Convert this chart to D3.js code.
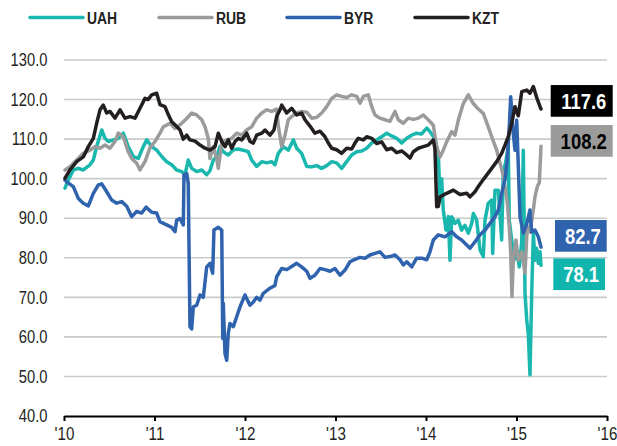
<!DOCTYPE html>
<html>
<head>
<meta charset="utf-8">
<script src="https://cdn.jsdelivr.net/npm/d3@7/dist/d3.min.js"></script>
<style>
    body { margin: 0; background: #ffffff; }
    svg { display: block; }
    text { font-family: "Liberation Sans", Arial, sans-serif; }
</style>
</head>
<body>
<div id="chart"></div>
<script>
// series names / colours
var seriesNames = ["UAH", "RUB", "BYR", "KZT"];
var seriesColors = ["#1ab7ae", "#9b9b9b", "#2f63ad", "#231f20"];
var yTicks = [40, 50, 60, 70, 80, 90, 100, 110, 120, 130];
var xTicks = [2010, 2011, 2012, 2013, 2014, 2015, 2016];

// [year, index]
var uah = [[2010.011,97.6],[2010.048,99.7],[2010.103,102.2],[2010.158,102.6],[2010.213,102.2],[2010.287,103.5],
    [2010.324,104.7],[2010.361,108.1],[2010.417,112.3],[2010.453,110.2],[2010.490,109.4],[2010.545,109.8],
    [2010.600,110.2],[2010.655,111.5],[2010.710,108.1],[2010.766,105.6],[2010.821,105.1],[2010.876,108.1],
    [2010.914,109.8],[2010.969,108.1],[2011.024,107.2],[2011.080,105.6],[2011.135,104.3],[2011.190,103.5],
    [2011.245,102.2],[2011.301,101.8],[2011.337,101.0],[2011.373,104.7],[2011.411,102.6],[2011.466,101.8],
    [2011.522,102.2],[2011.577,101.0],[2011.613,102.0],[2011.650,104.7],[2011.687,105.6],[2011.724,108.1],
    [2011.760,106.8],[2011.815,106.0],[2011.871,107.3],[2011.926,107.5],[2011.981,107.2],[2012.036,106.8],
    [2012.074,104.7],[2012.129,103.1],[2012.185,104.3],[2012.240,104.0],[2012.295,104.3],[2012.331,103.5],
    [2012.368,106.4],[2012.423,108.1],[2012.478,107.2],[2012.534,109.8],[2012.571,107.7],[2012.626,106.4],
    [2012.682,103.1],[2012.737,103.0],[2012.792,103.3],[2012.847,102.6],[2012.903,103.3],[2012.958,104.3],
    [2013.013,104.0],[2013.068,102.6],[2013.124,104.3],[2013.179,106.0],[2013.234,106.8],[2013.290,107.0],
    [2013.345,107.7],[2013.400,109.0],[2013.455,109.8],[2013.510,110.6],[2013.566,111.5],[2013.621,110.8],
    [2013.676,110.2],[2013.731,109.0],[2013.787,110.2],[2013.842,111.0],[2013.897,111.5],[2013.952,111.3],
    [2014.008,112.8],[2014.044,111.9],[2014.099,110.0],[2014.136,106.4],[2014.155,94.6],[2014.173,100.0],
    [2014.191,92.1],[2014.221,87.0],[2014.247,90.4],[2014.265,79.4],[2014.284,90.4],[2014.320,88.7],
    [2014.357,89.5],[2014.394,87.0],[2014.431,88.2],[2014.468,86.2],[2014.505,88.7],[2014.523,91.2],
    [2014.560,89.5],[2014.597,82.0],[2014.633,80.3],[2014.652,89.5],[2014.688,93.8],[2014.726,94.6],
    [2014.737,81.1],[2014.762,97.1],[2014.799,97.1],[2014.836,84.5],[2014.854,101.3],[2014.884,104.7],
    [2014.909,108.2],[2014.920,89.5],[2014.947,84.5],[2014.972,79.4],[2015.002,81.5],[2015.031,77.7],
    [2015.058,84.0],[2015.075,107.2],[2015.094,71.0],[2015.113,64.3],[2015.130,60.9],[2015.149,50.4],
    [2015.168,71.0],[2015.186,86.2],[2015.204,79.4],[2015.223,82.4],[2015.241,78.6],[2015.260,81.5],
    [2015.271,78.1]];

var rub = [[2010.011,102.2],[2010.066,103.0],[2010.140,104.7],[2010.213,106.4],[2010.287,107.2],[2010.343,108.1],
    [2010.398,107.7],[2010.453,108.5],[2010.508,107.7],[2010.564,109.4],[2010.600,111.5],[2010.655,110.6],
    [2010.710,106.8],[2010.748,105.1],[2010.803,103.9],[2010.840,102.2],[2010.895,104.3],[2010.950,107.8],
    [2011.006,109.4],[2011.061,111.5],[2011.097,113.1],[2011.171,114.0],[2011.227,112.7],[2011.301,114.0],
    [2011.356,115.2],[2011.411,116.6],[2011.466,116.1],[2011.522,114.9],[2011.558,113.1],[2011.594,110.2],
    [2011.613,105.1],[2011.650,108.1],[2011.687,105.1],[2011.705,102.6],[2011.743,109.0],[2011.798,109.8],
    [2011.853,110.2],[2011.908,111.5],[2011.964,111.0],[2012.019,112.3],[2012.074,113.1],[2012.129,115.3],
    [2012.185,116.6],[2012.240,117.4],[2012.295,117.0],[2012.350,117.6],[2012.368,113.3],[2012.406,108.1],
    [2012.442,111.0],[2012.478,114.9],[2012.516,115.7],[2012.571,116.6],[2012.626,117.0],[2012.682,116.8],
    [2012.737,115.3],[2012.792,115.5],[2012.847,116.6],[2012.903,118.2],[2012.958,120.3],[2013.013,121.2],
    [2013.068,120.8],[2013.124,120.5],[2013.179,121.2],[2013.234,120.8],[2013.271,119.1],[2013.307,120.8],
    [2013.362,121.2],[2013.400,118.2],[2013.436,116.1],[2013.492,115.3],[2013.547,114.9],[2013.602,114.5],
    [2013.657,117.0],[2013.694,114.9],[2013.749,114.0],[2013.804,115.3],[2013.860,115.0],[2013.915,115.3],
    [2013.970,116.1],[2014.025,114.9],[2014.081,113.5],[2014.118,108.0],[2014.155,105.5],[2014.191,107.2],
    [2014.228,109.3],[2014.284,111.9],[2014.320,111.0],[2014.357,114.8],[2014.412,119.0],[2014.468,121.2],
    [2014.523,119.0],[2014.578,117.6],[2014.633,116.5],[2014.688,113.1],[2014.726,110.6],[2014.781,107.2],
    [2014.818,103.9],[2014.854,100.9],[2014.884,96.3],[2014.898,94.0],[2014.920,87.9],[2014.936,81.1],
    [2014.950,70.2],[2014.965,79.5],[2014.994,84.5],[2015.020,79.4],[2015.058,81.5],[2015.094,76.1],
    [2015.119,88.0],[2015.149,86.5],[2015.186,92.1],[2015.204,95.4],[2015.230,98.0],[2015.252,99.0],
    [2015.271,108.2]];

var byr = [[2010.011,99.6],[2010.030,99.2],[2010.103,98.0],[2010.158,95.0],[2010.213,93.8],[2010.269,93.1],
    [2010.324,96.3],[2010.379,98.4],[2010.417,98.7],[2010.472,96.7],[2010.527,94.6],[2010.582,93.8],
    [2010.638,94.2],[2010.693,93.0],[2010.748,90.4],[2010.803,91.7],[2010.859,91.3],[2010.906,92.8],
    [2010.969,91.5],[2011.024,91.3],[2011.061,89.1],[2011.135,88.3],[2011.190,87.7],[2011.227,86.6],
    [2011.245,89.5],[2011.282,89.9],[2011.318,88.3],[2011.326,100.9],[2011.356,101.3],[2011.373,98.8],
    [2011.392,62.6],[2011.411,62.0],[2011.429,67.6],[2011.466,68.0],[2011.503,70.6],[2011.539,70.0],
    [2011.577,77.7],[2011.613,78.6],[2011.643,76.1],[2011.657,87.0],[2011.705,87.7],[2011.743,87.0],
    [2011.754,59.6],[2011.760,68.5],[2011.779,55.8],[2011.798,54.1],[2011.815,60.9],[2011.834,63.4],
    [2011.871,62.6],[2011.908,65.1],[2011.945,67.6],[2012.000,70.6],[2012.055,68.0],[2012.092,68.8],
    [2012.129,70.0],[2012.166,69.3],[2012.202,71.0],[2012.276,72.3],[2012.331,73.0],[2012.350,75.2],
    [2012.406,77.3],[2012.461,77.0],[2012.516,77.8],[2012.571,78.6],[2012.626,77.7],[2012.682,76.6],
    [2012.718,74.8],[2012.773,75.6],[2012.829,77.3],[2012.884,77.0],[2012.939,76.6],[2012.994,77.3],
    [2013.050,75.6],[2013.105,76.9],[2013.160,79.0],[2013.215,79.6],[2013.271,80.1],[2013.326,79.9],
    [2013.381,80.7],[2013.436,81.1],[2013.492,81.5],[2013.547,80.1],[2013.602,80.3],[2013.657,80.7],
    [2013.713,79.5],[2013.749,78.2],[2013.787,79.0],[2013.842,77.7],[2013.897,79.9],[2013.952,79.9],
    [2014.008,79.5],[2014.044,81.5],[2014.081,84.5],[2014.136,85.8],[2014.210,85.3],[2014.284,86.6],
    [2014.339,85.3],[2014.394,84.5],[2014.486,82.4],[2014.541,84.0],[2014.597,85.8],[2014.652,87.0],
    [2014.707,88.7],[2014.762,90.4],[2014.799,92.1],[2014.836,96.3],[2014.873,99.7],[2014.898,104.7],
    [2014.920,113.1],[2014.936,120.7],[2014.958,113.0],[2014.983,107.2],[2015.002,114.8],[2015.022,102.0],
    [2015.039,90.4],[2015.075,86.2],[2015.113,88.5],[2015.149,92.1],[2015.168,86.5],[2015.204,87.0],
    [2015.241,85.3],[2015.271,82.7]];

var kzt = [[2010.011,100.1],[2010.066,102.2],[2010.140,104.3],[2010.213,105.5],[2010.269,108.1],[2010.324,110.2],
    [2010.361,114.0],[2010.398,117.4],[2010.434,118.6],[2010.472,116.6],[2010.508,117.0],[2010.564,115.3],
    [2010.619,117.4],[2010.674,115.3],[2010.729,115.7],[2010.785,115.3],[2010.840,117.8],[2010.895,120.3],
    [2010.931,120.0],[2010.969,121.2],[2011.024,121.6],[2011.061,118.7],[2011.116,118.2],[2011.152,116.2],
    [2011.190,114.4],[2011.227,113.6],[2011.282,112.3],[2011.318,110.0],[2011.356,111.0],[2011.392,109.8],
    [2011.448,109.5],[2011.503,108.5],[2011.558,107.7],[2011.613,107.2],[2011.669,108.1],[2011.705,111.5],
    [2011.743,109.4],[2011.779,108.1],[2011.815,109.8],[2011.853,107.7],[2011.890,109.4],[2011.926,110.2],
    [2011.964,109.8],[2012.019,111.5],[2012.055,109.4],[2012.092,109.0],[2012.129,111.0],[2012.185,111.5],
    [2012.221,112.3],[2012.276,111.0],[2012.320,112.3],[2012.350,115.7],[2012.387,117.4],[2012.406,118.6],
    [2012.461,116.6],[2012.516,117.8],[2012.571,116.1],[2012.626,116.6],[2012.663,114.9],[2012.718,113.3],
    [2012.773,111.5],[2012.829,112.0],[2012.884,110.6],[2012.920,109.0],[2012.958,107.7],[2013.013,107.3],
    [2013.068,106.4],[2013.124,107.7],[2013.179,107.5],[2013.215,109.0],[2013.252,110.2],[2013.307,109.8],
    [2013.345,110.6],[2013.400,110.2],[2013.455,108.9],[2013.510,109.3],[2013.566,107.3],[2013.621,107.7],
    [2013.676,106.6],[2013.731,107.0],[2013.787,106.0],[2013.823,105.2],[2013.860,106.8],[2013.915,107.7],
    [2013.970,108.1],[2014.025,108.5],[2014.081,109.8],[2014.099,107.5],[2014.118,92.9],[2014.136,93.0],
    [2014.155,95.4],[2014.228,96.3],[2014.302,97.1],[2014.376,96.0],[2014.450,96.3],[2014.486,95.4],
    [2014.541,96.7],[2014.578,98.0],[2014.615,99.2],[2014.670,100.9],[2014.726,102.6],[2014.781,104.3],
    [2014.836,106.4],[2014.873,108.5],[2014.909,110.6],[2014.947,114.0],[2014.983,118.2],[2015.020,115.9],
    [2015.058,122.0],[2015.113,122.4],[2015.149,121.6],[2015.186,123.3],[2015.223,120.5],[2015.260,118.2],
    [2015.271,117.6]];

var narrow = "scale(0.82,1)"; // no condensed face installed, squeeze Arial-metric font

function drawChart() {
    var w = 617, h = 446;
    var left = 64, right = 607, top = 60, bottom = 416;
    var allData = [uah, rub, byr, kzt];

    var svg = d3.select("#chart").append("svg").attr("width", w).attr("height", h).style("background", "#ffffff");

    var scale_x = d3.scaleLinear().domain([2010, 2016]).range([left, right]);
    var scale_y = d3.scaleLinear().domain([40, 130]).range([bottom, top]);

    // grid
    svg.append("g").selectAll("line").data(yTicks.filter(function (d) { return d > 40; })).enter().append("line")
        .attr("x1", left).attr("x2", right)
        .attr("y1", function (d) { return scale_y(d); }).attr("y2", function (d) { return scale_y(d); })
        .attr("stroke", "#c8cbcb").attr("stroke-width", 1.6);

    // y labels
    var yAxis = svg.append("g").attr("transform", "translate(47.5,0)")
        .call(d3.axisLeft(scale_y).tickValues(yTicks).tickFormat(d3.format(".1f")).tickSize(0).tickPadding(0));
    yAxis.select(".domain").remove();
    yAxis.selectAll("text").attr("font-size", 18).attr("fill", "#231f20")
        .attr("font-family", "Liberation Sans, Arial, sans-serif").attr("transform", narrow);

    // lines
    var line_generator = d3.line()
        .x(function (d) { return scale_x(d[0]); })
        .y(function (d) { return scale_y(d[1]); });
    allData.forEach(function (data, i) {
        svg.append("path").attr("d", line_generator(data))
            .attr("fill", "none").attr("stroke", seriesColors[i]).attr("stroke-width", 3.5)
            .attr("stroke-linejoin", "round").attr("stroke-linecap", "round");
    });

    // x axis
    var xAxis = svg.append("g").attr("transform", "translate(0," + bottom + ")")
        .call(d3.axisBottom(scale_x).tickValues(xTicks)
            .tickFormat(function (d) { return "'" + String(d).slice(2); })
            .tickSizeInner(5).tickSizeOuter(0).tickPadding(6));
    xAxis.select(".domain").attr("stroke", "#000").attr("stroke-width", 2.2);
    xAxis.selectAll(".tick line").attr("stroke", "#000").attr("stroke-width", 2);
    xAxis.selectAll("text").attr("font-size", 18.5).attr("fill", "#231f20")
        .attr("font-family", "Liberation Sans, Arial, sans-serif").attr("transform", narrow);

    // end labels
    var labelOffsets = [8.9, -5.4, -11.3, -8.2];
    var labelLeft = [553.3, 550.7, 555, 550.7];
    var labelWidth = [51.7, 62, 51.7, 62];
    var labelText = ["#ffffff", "#000000", "#ffffff", "#ffffff"];
    var labelFill = ["#10b6ad", "#9b9b9b", "#2f63ad", "#000000"];
    allData.forEach(function (data, i) {
        var last = data[data.length - 1];
        var cy = scale_y(last[1]) + labelOffsets[i];
        svg.append("rect").attr("x", labelLeft[i]).attr("y", cy - 15.8)
            .attr("width", labelWidth[i]).attr("height", 31.7).attr("fill", labelFill[i]);
        svg.append("g").attr("transform", "translate(" + (labelLeft[i] + labelWidth[i] / 2 + 2) + "," + cy + ")")
            .append("text").attr("transform", narrow)
            .attr("dy", "0.36em").attr("text-anchor", "middle")
            .attr("font-size", 22.5).attr("font-weight", "bold").attr("fill", labelText[i])
            .text(d3.format(".1f")(last[1]));
    });

    // legend
    var legendX = [29, 158, 286, 414];
    seriesNames.forEach(function (name, i) {
        var g = svg.append("g").attr("transform", "translate(" + legendX[i] + ",17.5)");
        g.append("line").attr("x1", 1).attr("x2", 54).attr("y1", 0).attr("y2", 0)
            .attr("stroke", seriesColors[i]).attr("stroke-width", 3.5).attr("stroke-linecap", "round");
        g.append("g").attr("transform", "translate(58,0)")
            .append("text").attr("transform", narrow).attr("dy", "0.36em")
            .attr("font-size", 17).attr("font-weight", "bold").attr("fill", "#231f20")
            .text(name);
    });
}

drawChart();
</script>
</body>
</html>
